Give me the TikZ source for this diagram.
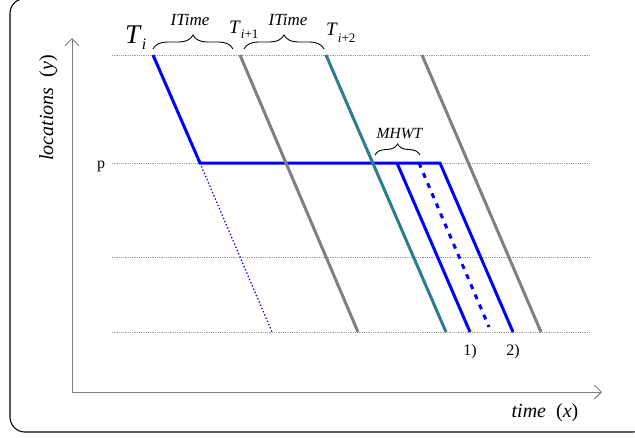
\documentclass[tikz,border=0pt]{standalone}
\usepackage{fontspec}
\setmainfont{Liberation Serif}
\usetikzlibrary{decorations.pathreplacing,arrows.meta}
\definecolor{tealline}{RGB}{45,125,140}
\definecolor{grayline}{RGB}{128,128,128}
\definecolor{blueline}{RGB}{0,0,255}
\begin{document}
\begin{tikzpicture}[x=1pt,y=-1pt,
  gridline/.style={gray!75, densely dotted, line width=0.8pt},
  axisline/.style={grayline, line width=0.9pt, -{Straight Barb[length=7pt,width=14pt]}},
  trainline/.style={line width=3pt},
  lab/.style={inner sep=0pt},
  brc/.style={decorate, decoration={brace, amplitude=#1}, line width=0.9pt}]
\clip (0,0) rectangle (635,437);
\draw[line width=1.1pt, rounded corners=15pt] (10,-1.5) rectangle (648,432);
% axes
\coordinate (O) at (72,392);
\coordinate (ytop) at (72,38);
\coordinate (xend) at (602,392);
\draw[axisline] (O) -- (ytop);
\draw[axisline] (O) -- (xend);
% grid lines
\foreach \yy/\nm in {55/g1,163/g2,257/g3,332/g4}{
  \coordinate (\nm l) at (112,\yy);
  \coordinate (\nm r) at (590,\yy);
  \draw[gridline] (\nm l) -- (\nm r);
}
% blue train T_i
\coordinate (a0) at (153,55);
\coordinate (a1) at (200,163);
\coordinate (a2) at (397,163);
\coordinate (a3) at (419,163);
\coordinate (a4) at (440,163);
\coordinate (b1) at (470,332);
\coordinate (b2) at (489,327);
\coordinate (b3) at (513,332);
\coordinate (d1) at (272,332);
\draw[blueline, line width=1.3pt, dash pattern=on 1.3pt off 2.2pt] (a1) -- (d1);
\draw[blueline, trainline] (a0) -- (a1) -- (a4) -- (b3);
\draw[blueline, trainline] (a2) -- (b1);
\draw[blueline, trainline, dash pattern=on 5pt off 6pt] (a3) -- (b2);
% other trains
\coordinate (c0) at (240,55); \coordinate (c1) at (358,332);
\coordinate (e0) at (326,55); \coordinate (e1) at (446,332);
\coordinate (f0) at (422,55); \coordinate (f1) at (541,332);
\draw[grayline, trainline] (c0) -- (c1);
\draw[tealline, trainline] (e0) -- (e1);
\draw[grayline, trainline] (f0) -- (f1);
% braces
\coordinate (br1a) at (153,49); \coordinate (br1b) at (233,49);
\coordinate (br2a) at (244,49); \coordinate (br2b) at (324,49);
\coordinate (br3a) at (375,155); \coordinate (br3b) at (420,155);
\draw[brc=14pt] (br1a) -- (br1b);
\draw[brc=14pt] (br2a) -- (br2b);
\draw[brc=11pt] (br3a) -- (br3b);
\node[lab, anchor=base] (it1) at (190,25) {\fontsize{17}{17}\selectfont\textit{ITime}};
\node[lab, anchor=base] (it2) at (288,25) {\fontsize{17}{17}\selectfont\textit{ITime}};
\node[lab, anchor=base] (mh) at (400,138) {\fontsize{15.5}{15}\selectfont\textit{MHWT}};
% train labels
\node[lab, anchor=base west] (ti) at (125,43) {\fontsize{27}{27}\selectfont\textit{T}\raisebox{-6pt}{\fontsize{16}{16}\selectfont\textit{i}}};
\node[lab, anchor=base west] (ti1) at (229,33) {\fontsize{19}{19}\selectfont\textit{T}\raisebox{-5pt}{\fontsize{13}{13}\selectfont\textit{i}+1}};
\node[lab, anchor=base west] (ti2) at (326,35) {\fontsize{19}{19}\selectfont\textit{T}\raisebox{-7pt}{\fontsize{13}{13}\selectfont\textit{i}+2}};
% other labels
\node[lab, anchor=base] (p) at (101,168) {\fontsize{16}{16}\selectfont p};
\node[lab, anchor=base] (l1) at (470,355) {\fontsize{16}{16}\selectfont 1)};
\node[lab, anchor=base] (l2) at (513,355) {\fontsize{16}{16}\selectfont 2)};
\node[lab, anchor=base, rotate=90] (ylab) at (53,108) {\fontsize{20}{20}\selectfont\textit{locations}\ \ (\textit{y})};
\node[lab, anchor=base] (xlab) at (545,417) {\fontsize{20}{20}\selectfont\textit{time}\ \ (\textit{x})};
\end{tikzpicture}
\end{document}
